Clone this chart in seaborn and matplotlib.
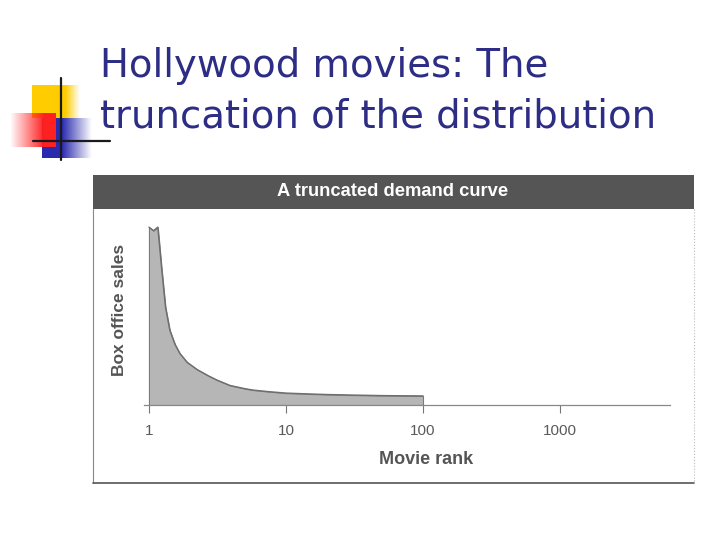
import numpy as np
import pandas as pd
import matplotlib.pyplot as plt
import seaborn as sns
from matplotlib.patches import Rectangle
from matplotlib.ticker import NullLocator

# Text
title_lines = ["Hollywood movies: The", "truncation of the distribution"]
panel_title = "A truncated demand curve"
x_label = "Movie rank"
y_label = "Box office sales"

# Curve (sales as % of the top movie)
movie_rank = [1, 1.08, 1.16, 1.24, 1.32, 1.42, 1.55, 1.68, 1.9, 2.24, 2.7,
              3.14, 3.9, 5, 5.75, 7.5, 10, 15, 20, 30, 50, 70, 100]
box_office = [100, 98, 100, 76, 55, 42, 34, 29, 24, 20, 16.5,
              14, 11, 9.2, 8.4, 7.5, 6.7, 6.2, 5.9, 5.6, 5.3, 5.2, 5.1]
rank_ticks = [1, 10, 100, 1000]
rank_tick_labels = ["1", "10", "100", "1000"]

df = pd.DataFrame({"rank": movie_rank, "sales": box_office})

sns.set_style("white")
plt.rcParams['font.family'] = ['DejaVu Sans']

W, H = 720, 540
fig = plt.figure(figsize=(7.2, 5.4), dpi=100)


def px_box(x0, y0, x1, y1):
    return [x0 / W, 1 - y1 / H, (x1 - x0) / W, (y1 - y0) / H]


def hgrad(ax, color, extent, fade_from_left=False, solid=0.6):
    # horizontal fade to white
    n = 100
    t = np.linspace(0, 1, n)
    alpha = np.clip((1 - t) / (1 - solid), 0, 1)
    if fade_from_left:
        alpha = alpha[::-1]
    rgba = np.zeros((1, n, 4))
    rgba[..., :3] = plt.matplotlib.colors.to_rgb(color)
    rgba[..., 3] = alpha
    ax.imshow(rgba, extent=extent, aspect='auto', interpolation='bilinear')


# slide layer in pixel coordinates
bg = fig.add_axes([0, 0, 1, 1])
bg.axis('off')

# logo
hgrad(bg, '#ffcc00', (32, 80, 118, 85), solid=0.7)
hgrad(bg, '#2a2ab0', (42, 92, 158, 118), solid=0.4)
hgrad(bg, '#ff2020', (10, 56, 147, 113), fade_from_left=True, solid=0.25)
bg.plot([61, 61], [78, 160], color='#1a1a1a', lw=1.6)
bg.plot([33, 110], [141, 141], color='#1a1a1a', lw=1.6)

# slide title
for line, base in zip(title_lines, [77, 128]):
    bg.text(100, base, line, fontsize=27.8, color='#2d2d86', va='baseline', ha='left')

# scanned figure frame + header band
bg.add_patch(Rectangle((93, 175), 601, 308, facecolor='white', edgecolor='none'))
bg.add_patch(Rectangle((93, 175), 601, 34, facecolor='#555555', edgecolor='none'))
bg.text(393, 192, panel_title, color='white', fontsize=13.2, fontweight='bold',
        family='Liberation Sans', ha='center', va='center')
bg.plot([93, 93], [209, 483], color='#888888', lw=0.8)
bg.plot([93, 694], [483, 483], color='#555555', lw=1.2)
bg.plot([694, 694], [209, 483], color='#bbbbbb', lw=0.8, ls=':')

bg.set_xlim(0, W)
bg.set_ylim(H, 0)

# demand curve
ax = fig.add_axes(px_box(144, 220, 670, 405))
ax.set_facecolor('none')
ax.fill_between(df['rank'], df['sales'], color='#b6b6b6', edgecolor='#7a7a7a', lw=0.8)
sns.lineplot(data=df, x='rank', y='sales', color='#6e6e6e', lw=1.0, ax=ax)
ax.set_xscale('log')
ax.set_xlim(0.92, 6350)
ax.set_ylim(0, 104)

for s in ['top', 'right', 'left']:
    ax.spines[s].set_visible(False)
ax.spines['bottom'].set_color('#888888')
ax.spines['bottom'].set_linewidth(0.9)

ax.set_xticks(rank_ticks)
ax.set_xticklabels(rank_tick_labels, family='Liberation Sans')
ax.xaxis.set_minor_locator(NullLocator())
ax.set_yticks([])
ax.tick_params(axis='x', length=6, width=0.8, color='#777777', direction='out',
               labelsize=11, labelcolor='#5a5a5a', pad=8, bottom=True)

ax.set_xlabel(x_label, fontsize=13, fontweight='bold', color='#555555',
              family='Liberation Sans', va='center')
ax.xaxis.set_label_coords((426 - 144) / 526, (405 - 460) / 185)
ax.set_ylabel(y_label, fontsize=12.5, fontweight='bold', color='#555555',
              family='Liberation Sans', va='center', ha='center')
ax.yaxis.set_label_coords((120 - 144) / 526, (405 - 310) / 185)

plt.savefig('out.png', dpi=100)
